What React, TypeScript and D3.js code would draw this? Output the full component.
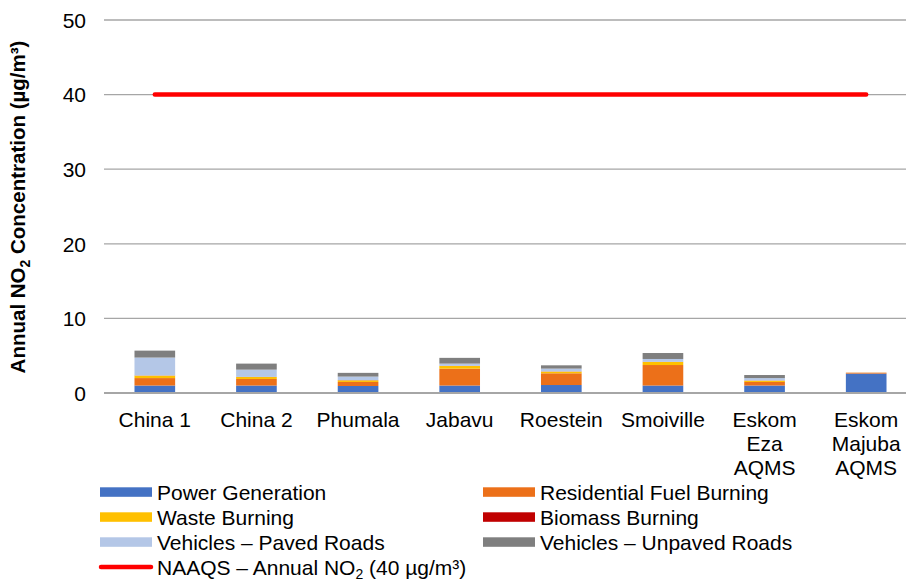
import React from "react";
import * as d3 from "d3";

const categories = ["China 1", "China 2", "Phumala", "Jabavu", "Roestein", "Smoiville", "Eskom Eza AQMS", "Eskom Majuba AQMS"];
const categoryLines = [["China 1"], ["China 2"], ["Phumala"], ["Jabavu"], ["Roestein"], ["Smoiville"], ["Eskom", "Eza", "AQMS"], ["Eskom", "Majuba", "AQMS"]];
const powerGeneration = [1.0, 1.0, 0.94, 1.0, 1.07, 1.0, 1.0, 2.6];
const residentialFuel = [1.0, 0.88, 0.54, 2.26, 1.57, 2.75, 0.48, 0.08];
const wasteBurning = [0.33, 0.26, 0.22, 0.36, 0.23, 0.41, 0.18, 0.03];
const biomassBurning = [0.02, 0.02, 0.02, 0.02, 0.02, 0.02, 0.02, 0.02];
const vehiclesPaved = [2.4, 0.97, 0.48, 0.3, 0.38, 0.38, 0.32, 0.0];
const vehiclesUnpaved = [0.93, 0.81, 0.5, 0.77, 0.44, 0.8, 0.41, 0.0];
const naaqs = [40, 40, 40, 40, 40, 40, 40, 40];
const yTicks = [0, 10, 20, 30, 40, 50];

const seriesNames = ["Power Generation", "Residential Fuel Burning", "Waste Burning", "Biomass Burning", "Vehicles – Paved Roads", "Vehicles – Unpaved Roads"];
const seriesValues = [powerGeneration, residentialFuel, wasteBurning, biomassBurning, vehiclesPaved, vehiclesUnpaved];
const seriesColors = ["#4472C4", "#EC7019", "#FFC000", "#C00000", "#B4C7E7", "#7F7F7F"];

export default function App() {
  const W = 906, H = 582;
  const x = d3.scaleBand<string>().domain(categories).range([104, 917]).paddingInner(0.6).paddingOuter(0.3);
  const y = d3.scaleLinear().domain([0, 50]).range([393, 20]);
  const rows = categories.map((c, i) => {
    const r: any = { cat: c };
    seriesNames.forEach((n, k) => (r[n] = seriesValues[k][i]));
    return r;
  });
  const stacked = d3.stack<any>().keys(seriesNames)(rows);
  const cx = (i: number) => (x(categories[i]) as number) + x.bandwidth() / 2;
  const line = d3.line<number>().x((_, i) => cx(i)).y((d) => y(d));
  const font = "Liberation Sans, Arial, sans-serif";
  const legendItems = seriesNames.map((n, k) => ({ name: n, color: seriesColors[k], col: k % 2, row: Math.floor(k / 2) }));

  return (
    <svg width={W} height={H} style={{ position: "absolute", left: 0, top: 0 }} fontFamily={font}>
      <rect width={W} height={H} fill="#fff" />
      {yTicks.map((t) => (
        <g key={t}>
          {t !== 0 && <line x1={104} x2={W} y1={y(t)} y2={y(t)} stroke="#a6a6a6" strokeWidth={1.3} />}
          <text x={86} y={y(t) + 7.8} textAnchor="end" fontSize={21} fill="#000">{t}</text>
        </g>
      ))}
      {stacked.map((s, k) => (
        <g key={k} fill={seriesColors[k]}>
          {s.map((d, i) => (
            <rect key={i} x={x(categories[i])} width={x.bandwidth()} y={y(d[1])} height={Math.max(0, y(d[0]) - y(d[1]))} />
          ))}
        </g>
      ))}
      <line x1={104} x2={W} y1={y(0)} y2={y(0)} stroke="#a6a6a6" strokeWidth={2} />
      <path d={line(naaqs) || ""} fill="none" stroke="#FF0000" strokeWidth={4.5} strokeLinecap="round" />
      {categoryLines.map((lines, i) => (
        <text key={i} textAnchor="middle" fontSize={21} fill="#000">
          {lines.map((l, j) => (
            <tspan key={j} x={cx(i)} y={426.5 + j * 24}>{l}</tspan>
          ))}
        </text>
      ))}
      <text transform="translate(25,207) rotate(-90)" textAnchor="middle" fontSize={20.5} fontWeight="bold" fill="#000">
        Annual NO<tspan fontSize={14} dy={5}>2</tspan><tspan dy={-5}> Concentration (µg/m³)</tspan>
      </text>
      {legendItems.map((it) => {
        const lx = it.col === 0 ? 100 : 483;
        const ly = 492 + it.row * 25;
        return (
          <g key={it.name}>
            <rect x={lx} y={ly - 4.7} width={52} height={9.5} fill={it.color} />
            <text x={lx + 57} y={ly + 7.5} fontSize={21} fill="#000">{it.name}</text>
          </g>
        );
      })}
      <line x1={101} x2={151} y1={567} y2={567} stroke="#FF0000" strokeWidth={4.5} strokeLinecap="round" />
      <text x={157} y={574.5} fontSize={21} fill="#000">
        NAAQS – Annual NO<tspan fontSize={14} dy={4}>2</tspan><tspan dy={-4}> (40 µg/m³)</tspan>
      </text>
    </svg>
  );
}
